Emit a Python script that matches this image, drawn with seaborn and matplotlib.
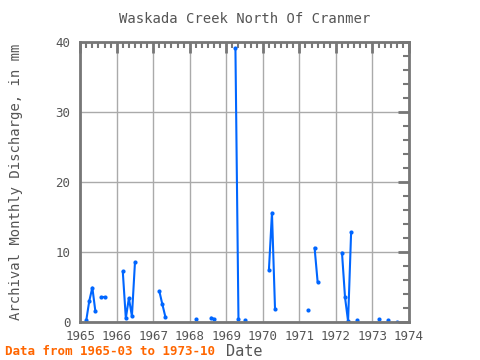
import numpy as np
import pandas as pd
import seaborn as sns
import matplotlib
matplotlib.use("Agg")
import matplotlib.pyplot as plt
from matplotlib.ticker import MultipleLocator

# Monthly discharge values (mm)
months = ["1965-03", "1965-04", "1965-05", "1965-06", "1965-08", "1965-09",
          "1966-03", "1966-04", "1966-05", "1966-06", "1966-07",
          "1967-03", "1967-04", "1967-05",
          "1968-03", "1968-08", "1968-09",
          "1969-04", "1969-05", "1969-07",
          "1970-03", "1970-04", "1970-05",
          "1971-04", "1971-06", "1971-07",
          "1972-03", "1972-04", "1972-05", "1972-06", "1972-08",
          "1973-03", "1973-06", "1973-09"]
values = [0.2, 3.0, 4.9, 1.5, 3.5, 3.5,
          7.2, 0.5, 3.4, 0.8, 8.5,
          4.4, 2.5, 0.7,
          0.4, 0.6, 0.4,
          39.1, 0.4, 0.3,
          7.4, 15.6, 1.9,
          1.7, 10.6, 5.7,
          9.9, 3.5, 0.1, 12.8, 0.2,
          0.4, 0.2, 0.0]

df = pd.DataFrame({"month": pd.to_datetime(months), "value": values})
df["t"] = df["month"].dt.year + (df["month"].dt.month - 1) / 12
# Split into runs of consecutive months so gaps are not bridged
idx = df["month"].dt.year * 12 + df["month"].dt.month
df["seg"] = (idx.diff() != 1).cumsum()

sns.set_style("white")
plt.rcParams["font.family"] = ["DejaVu Sans Mono"]

grey = "#777777"
fig = plt.figure(figsize=(4.8, 3.6), dpi=100)
ax = fig.add_axes([0.167, 0.106, 0.685, 0.777])

sns.lineplot(data=df, x="t", y="value", units="seg", estimator=None,
             color="#0066ff", linewidth=1.5, marker="o", markersize=3,
             markeredgewidth=0, ax=ax, legend=False)

ax.set_xlim(1965, 1974)
ax.set_ylim(0, 40)
ax.xaxis.set_major_locator(MultipleLocator(1))
ax.xaxis.set_minor_locator(MultipleLocator(2 / 12))
ax.yaxis.set_major_locator(MultipleLocator(10))
ax.yaxis.set_minor_locator(MultipleLocator(2))
ax.set_xticklabels([str(int(v)) for v in ax.get_xticks()])

ax.grid(True, which="major", color="#aaaaaa", linewidth=1)
for s in ax.spines.values():
    s.set_color(grey)
    s.set_linewidth(2)
ax.tick_params(which="both", direction="in", top=True, right=True,
               color=grey, labelcolor="#555555", labelsize=9)
ax.tick_params(which="major", length=8, width=2)
ax.tick_params(which="minor", length=4, width=1.5)
ax.tick_params(axis="x", which="major", pad=6)
ax.tick_params(axis="y", which="major", pad=7)

ax.set_title("Waskada Creek North Of Cranmer", color="#555555", fontsize=10, pad=14)
ax.set_xlabel("Date", color="#555555", fontsize=11)
ax.xaxis.set_label_coords(0.5, -0.08)
ax.set_ylabel("Archival Monthly Discharge, in mm", color="#555555", fontsize=10)
ax.yaxis.set_label_coords(-0.175, 0.5)

fig.text(0.01, 0.015, "Data from 1965-03 to 1973-10", color="#ff6600",
         fontsize=9, fontweight="bold")

fig.savefig("out.png", dpi=100)
